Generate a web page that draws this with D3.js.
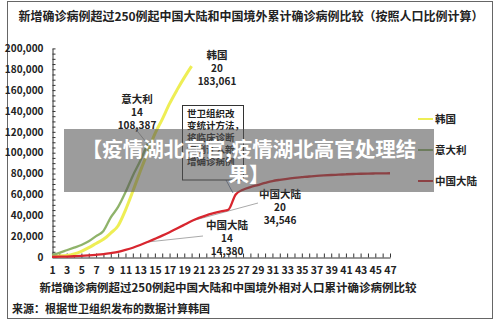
<!DOCTYPE html>
<html>
<head>
<meta charset="utf-8">
<script src="https://cdn.jsdelivr.net/npm/d3@7"></script>
<style>
  html, body { margin: 0; padding: 0; background: #fff; }
  svg { display: block; }
  text { font-family: "Noto Sans CJK SC", "Liberation Sans", sans-serif; }
</style>
</head>
<body>
<svg id="chart" width="500" height="323"></svg>
<script>
// Days since the 250th new case
const days = d3.range(1, 48);
const tickLabels = days.filter(d => d % 2 === 1);
const yTicks = [0, 20000, 40000, 60000, 80000, 100000, 120000, 140000, 160000, 180000, 200000];

// Cumulative confirmed cases, scaled by population
const korea = [500, 1000, 1500, 3000, 5500, 9000, 13000, 17000, 23000, 30000,
  45000, 63000, 82000, 100000, 118000, 132000, 147000, 160000, 172000, 183061];
const italy = [2000, 4000, 6500, 9000, 11500, 15000, 20000, 25000, 38000, 48000,
  62000, 78000, 92000, 108387];
const china = [200, 300, 450, 700, 1000, 1500, 2100, 2800, 3800, 5000,
  6800, 8900, 11500, 14380, 17400, 20500, 23800, 27300, 30900, 34546,
  37500, 40000, 42000, 43800, 45300, 60000, 64500, 67000, 69000, 71000,
  72800, 74000, 75000, 75800, 76500, 77200, 77700, 78200, 78600, 78900,
  79300, 79600, 79800, 80000, 80100, 80200, 80300];

const seriesNames = ["韩国", "意大利", "中国大陆"];
const seriesColors = ["#eeee55", "#8fb36a", "#d8262f"];

const svg = d3.select("#chart");
const x = d3.scaleLinear().domain([1, 47]).range([52, 390]);
const y = d3.scaleLinear().domain([0, 200000]).range([257, 48.4]);

// Outer frame
svg.append("rect").attr("x", 7.5).attr("y", 1.5).attr("width", 485).attr("height", 317)
  .attr("fill", "#fff").attr("stroke", "#666").attr("stroke-width", 1);

// Title
svg.append("text").attr("x", 251).attr("y", 21).attr("text-anchor", "middle")
  .attr("font-size", 12).attr("font-weight", "bold").attr("fill", "#222")
  .text("新增确诊病例超过250例起中国大陆和中国境外累计确诊病例比较（按照人口比例计算）");

// Y axis with minor ticks
const yMinor = svg.append("g").attr("transform", "translate(52.5,0)")
  .call(d3.axisRight(y).tickValues(d3.range(0, 200001, 5000)).tickSize(3).tickFormat(""));
yMinor.select(".domain").remove();
yMinor.selectAll("line").attr("stroke", "#333");

const yAxis = svg.append("g").attr("transform", "translate(52.5,0)")
  .call(d3.axisLeft(y).tickValues(yTicks).tickSize(0).tickPadding(9)
    .tickFormat(d3.format(",")));
yAxis.select(".domain").attr("stroke", "#333");
yAxis.selectAll("text").attr("font-family", "Liberation Sans, sans-serif")
  .attr("font-size", 10).attr("font-weight", "bold").attr("fill", "#222");

// X axis: a tick every day, labels on odd days
const xAxis = svg.append("g").attr("transform", "translate(0,257.5)")
  .call(d3.axisBottom(x).tickValues(days).tickSizeInner(-4).tickSizeOuter(0).tickPadding(9)
    .tickFormat(d => tickLabels.includes(d) ? d : ""));
xAxis.select(".domain").attr("stroke", "#333");
xAxis.selectAll("line").attr("stroke", "#333");
xAxis.selectAll("text").attr("font-family", "Liberation Sans, sans-serif")
  .attr("font-size", 10.5).attr("font-weight", "bold").attr("fill", "#222");

// Axis title and source
svg.append("text").attr("x", 228).attr("y", 292).attr("text-anchor", "middle")
  .attr("font-size", 11.5).attr("font-weight", "bold").attr("fill", "#222")
  .text("新增确诊病例超过250例起中国大陆和中国境外相对人口累计确诊病例比较");
svg.append("text").attr("x", 12).attr("y", 313)
  .attr("font-size", 11).attr("font-weight", "bold").attr("fill", "#222")
  .text("来源：根据世卫组织发布的数据计算韩国");

// Leader lines for labels
const leaders = [
  [[x(14), y(108387)], [134, 127]],
  [[x(14), y(14380)], [203, 236]],
  [[x(20), y(34546)], [258, 203]]
];
svg.append("g").selectAll("line").data(leaders).join("line")
  .attr("x1", d => d[0][0]).attr("y1", d => d[0][1])
  .attr("x2", d => d[1][0]).attr("y2", d => d[1][1])
  .attr("stroke", "#aaa").attr("stroke-width", 1);

// Series lines
const line = d3.line().x((d, i) => x(i + 1)).y(d => y(d)).curve(d3.curveMonotoneX);
const data = [korea, italy, china];
svg.append("g").selectAll("path").data(data).join("path")
  .attr("d", line).attr("fill", "none")
  .attr("stroke", (d, i) => seriesColors[i])
  .attr("stroke-width", (d, i) => i === 0 ? 3 : 2.3)
  .attr("stroke-linejoin", "round");

// Value callouts
function callout(cx, cy, name, day, value) {
  const g = svg.append("g").attr("font-weight", "bold").attr("fill", "#222")
    .attr("text-anchor", "middle");
  g.append("text").attr("x", cx).attr("y", cy).attr("font-size", 10.5).text(name);
  g.append("text").attr("x", cx).attr("y", cy + 12.5).attr("font-size", 10)
    .attr("font-family", "Liberation Sans, sans-serif").text(day);
  g.append("text").attr("x", cx).attr("y", cy + 26).attr("font-size", 10)
    .attr("font-family", "Liberation Sans, sans-serif").text(d3.format(",")(value));
}
callout(217, 59, seriesNames[0], 20, korea[19]);
callout(137, 103, seriesNames[1], 14, italy[13]);
callout(280, 198, seriesNames[2], 20, china[19]);
callout(227, 229, seriesNames[2], 14, china[13]);

// Note on the WHO counting change
svg.append("line").attr("x1", 226).attr("y1", 180).attr("x2", 233).attr("y2", 193)
  .attr("stroke", "#7f8fb0").attr("stroke-width", 1);
svg.append("rect").attr("x", 182.5).attr("y", 105.5).attr("width", 61).attr("height", 74.5)
  .attr("fill", "#fff").attr("stroke", "#333").attr("stroke-width", 1);
const noteLines = ["世卫组织改", "变统计方法，", "将临床诊断", "病例计入新", "增确诊病例"];
svg.append("g").selectAll("text").data(noteLines).join("text")
  .attr("x", 187).attr("y", (d, i) => 117 + i * 12)
  .attr("font-size", 9.5).attr("font-weight", "bold").attr("fill", "#222")
  .text(d => d);

// Legend
const legend = svg.append("g").selectAll("g").data(seriesNames).join("g")
  .attr("transform", (d, i) => `translate(418,${119 + i * 31})`);
legend.append("line").attr("x1", 0).attr("x2", 15).attr("y1", 0).attr("y2", 0)
  .attr("stroke", (d, i) => seriesColors[i]).attr("stroke-width", 2);
legend.append("text").attr("x", 17).attr("y", 4).attr("font-size", 10.5)
  .attr("font-weight", "bold").attr("fill", "#222").text(d => d);

// Translucent headline banner
svg.append("rect").attr("x", 64).attr("y", 129).attr("width", 370).attr("height", 63)
  .attr("fill", "rgba(85,85,85,0.58)");
const banner = ["【疫情湖北高官,疫情湖北高官处理结", "果】"];
svg.append("g").selectAll("text").data(banner).join("text")
  .attr("x", 249).attr("y", (d, i) => 157 + i * 25).attr("text-anchor", "middle")
  .attr("font-size", 20.5).attr("font-weight", "bold").attr("fill", "#fff")
  .text(d => d);
</script>
</body>
</html>
